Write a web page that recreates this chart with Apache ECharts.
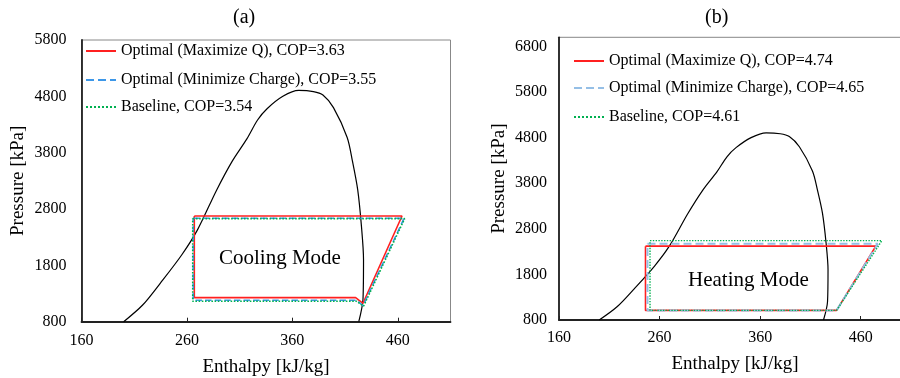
<!DOCTYPE html>
<html>
<head>
<meta charset="utf-8">
<script src="https://cdn.jsdelivr.net/npm/echarts@6/dist/echarts.min.js"></script>
<style>
  html, body { margin: 0; padding: 0; background: #fff; }
  #chart { width: 900px; height: 378px; }
</style>
</head>
<body>
<div id="chart"></div>
<script>
// saturation dome [enthalpy kJ/kg, pressure kPa], same refrigerant in both panels
var dome = [[200, 800], [218, 1096], [235, 1490], [255, 1984], [270, 2430], [288, 3130],
    [303, 3650], [317, 4050], [327, 4380], [336, 4580], [351, 4800], [366, 4905],
    [380, 4885], [389, 4824], [399, 4600], [412, 4070], [417, 3650], [422, 3140],
    [425.5, 2500], [427.5, 1900], [427, 1200], [423, 800]];

// (a) cooling mode cycles
var coolMaxQ = [[267, 2676], [464, 2676], [427, 1127], [420, 1228], [267, 1228], [267, 2676]];
var coolMinCharge = [[266, 2635], [466, 2635], [427, 1085], [421, 1180], [266, 1180], [266, 2635]];
var coolBaseline = [[265.5, 2630], [466.5, 2630], [427.5, 1075], [421, 1162], [265.5, 1162], [265.5, 2630]];

// (b) heating mode cycles
var heatMaxQ = [[246, 2420], [475, 2420], [436, 1010], [246, 1010], [246, 2420]];
var heatMinCharge = [[248, 2470], [477, 2470], [436, 1010], [248, 1010], [248, 2470]];
var heatBaseline = [[250.5, 2540], [481, 2540], [436, 1010], [250.5, 1010], [250.5, 2540]];

var namesA = ['Optimal (Maximize Q), COP=3.63', 'Optimal (Minimize Charge), COP=3.55', 'Baseline, COP=3.54'];
var namesB = ['Optimal (Maximize Q), COP=4.74', 'Optimal (Minimize Charge), COP=4.65', 'Baseline, COP=4.61'];

var font = "'Liberation Serif', 'Times New Roman', serif";
var myChart = echarts.init(document.getElementById('chart'));

function plain(v) { return String(v); }

function xAxisOf(idx, margin, gap) {
    return {
        type: 'value', gridIndex: idx, min: 160, max: 510, interval: 100,
        name: 'Enthalpy [kJ/kg]', nameLocation: 'middle', nameGap: gap,
        nameTextStyle: { fontFamily: font, fontSize: 19, color: '#000' },
        axisLine: { show: true, onZero: false, lineStyle: { color: '#222', width: 1.8 } },
        axisTick: { show: true, inside: true, length: 4, lineStyle: { color: '#222' } },
        axisLabel: { fontFamily: font, fontSize: 16, color: '#000', margin: margin, showMaxLabel: false, formatter: plain },
        splitLine: { show: false }
    };
}
function yAxisOf(idx, max, gap, margin, showMax) {
    return {
        type: 'value', gridIndex: idx, min: 800, max: max, interval: 1000,
        name: 'Pressure [kPa]', nameLocation: 'middle', nameGap: gap,
        nameTextStyle: { fontFamily: font, fontSize: 19, color: '#000' },
        axisLine: { show: true, onZero: false, lineStyle: { color: '#222', width: 1.8 } },
        axisTick: { show: false },
        axisLabel: { fontFamily: font, fontSize: 16, color: '#000', margin: margin, showMaxLabel: showMax, formatter: plain },
        splitLine: { show: false }
    };
}
function legendOf(name, left, top) {
    return {
        data: [name], left: left, top: top, padding: 0,
        itemWidth: 30, itemHeight: 12, selectedMode: false,
        itemStyle: { opacity: 0 },
        textStyle: { fontFamily: font, fontSize: 16, color: '#000', lineHeight: 16 }
    };
}
function lineOf(name, data, idx, color, type, width, smooth) {
    return {
        name: name, type: 'line', data: data, xAxisIndex: idx, yAxisIndex: idx,
        symbol: 'none', showSymbol: false, animation: false, smooth: smooth || false,
        lineStyle: { color: color, type: type, width: width }, itemStyle: { color: color }
    };
}

var option = {
    animation: false,
    grid: [
        { left: 81.5, top: 40, width: 369, height: 281.7, show: true, borderColor: '#888', borderWidth: 1, outerBoundsMode: 'none' },
        { left: 559, top: 37.3, width: 352, height: 282.7, show: true, borderColor: '#888', borderWidth: 1, outerBoundsMode: 'none' }
    ],
    xAxis: [xAxisOf(0, 11, 36), xAxisOf(1, 10, 35)],
    yAxis: [yAxisOf(0, 5800, 54, 15, true), yAxisOf(1, 7000, 50, 12, false)],
    legend: [
        legendOf(namesA[0], 85, 43), legendOf(namesA[1], 85, 72), legendOf(namesA[2], 85, 99),
        legendOf(namesB[0], 573, 53), legendOf(namesB[1], 573, 80), legendOf(namesB[2], 573, 109)
    ],
    graphic: [
        { type: 'text', left: 233, top: 8, style: { text: '(a)', font: '20px ' + font, fill: '#000' } },
        { type: 'text', left: 705, top: 8, style: { text: '(b)', font: '20px ' + font, fill: '#000' } },
        { type: 'text', left: 219, top: 248, style: { text: 'Cooling Mode', font: '21px ' + font, fill: '#000' } },
        { type: 'text', left: 688, top: 270, style: { text: 'Heating Mode', font: '21px ' + font, fill: '#000' } }
    ],
    series: [
        lineOf('domeA', dome, 0, '#000', 'solid', 1.2, 0.3),
        lineOf(namesA[0], coolMaxQ, 0, '#ff2020', 'solid', 1.6),
        lineOf(namesA[1], coolMinCharge, 0, '#3d97e8', 'dashed', 1.6),
        lineOf(namesA[2], coolBaseline, 0, '#00b050', 'dotted', 1.6),
        lineOf('domeB', dome, 1, '#000', 'solid', 1.2, 0.3),
        lineOf(namesB[0], heatMaxQ, 1, '#ff2020', 'solid', 1.6),
        lineOf(namesB[1], heatMinCharge, 1, '#95bfe6', 'dashed', 2),
        lineOf(namesB[2], heatBaseline, 1, '#00b050', 'dotted', 1.4)
    ]
};
myChart.setOption(option);
</script>
</body>
</html>
